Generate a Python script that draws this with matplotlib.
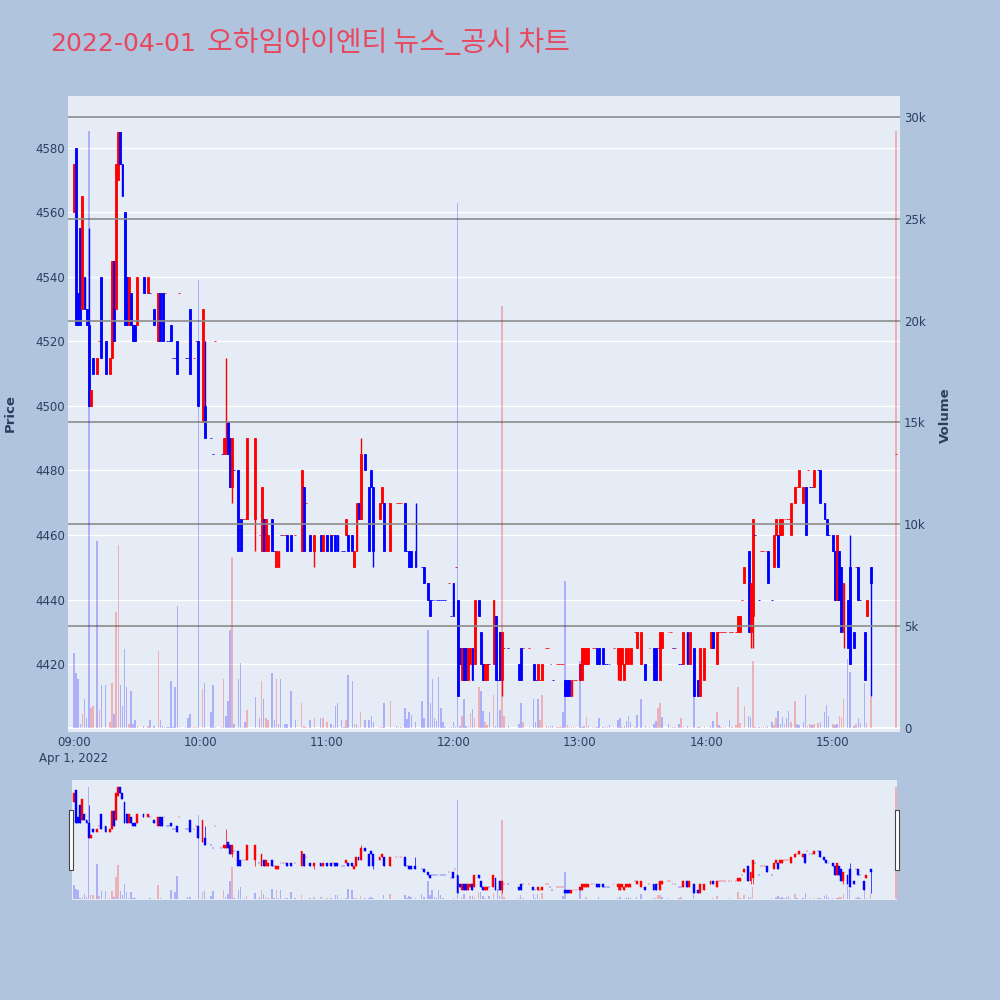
import matplotlib.pyplot as plt
from matplotlib.patches import Rectangle

# minutes after 09:00, one entry per traded minute
minutes = [0, 1, 2, 3, 4, 5, 6, 7, 8, 9,
           11, 12, 13, 15, 17, 18, 19, 20, 21, 22,
           23, 24, 25, 26, 27, 28, 29, 30, 33, 35,
           36, 38, 40, 41, 42, 43, 44, 45, 46, 47,
           48, 49, 50, 53, 54, 55, 57, 58, 59, 61,
           62, 65, 66, 67, 70, 71, 72, 73, 74, 75,
           76, 78, 79, 80, 81, 82, 86, 88, 89, 90,
           91, 92, 94, 95, 96, 97, 98, 99, 100, 101,
           103, 105, 108, 109, 110, 112, 114, 117, 118, 120,
           122, 123, 124, 125, 127, 128, 129, 130, 132, 133,
           134, 135, 136, 138, 140, 141, 142, 145, 146, 147,
           150, 153, 154, 155, 157, 158, 159, 160, 162, 165,
           166, 168, 169, 170, 171, 172, 173, 174, 175, 176,
           178, 179, 180, 181, 182, 183, 184, 185, 186, 187,
           188, 189, 190, 192, 193, 194, 195, 196, 197, 199,
           200, 201, 202, 203, 204, 206, 211, 212, 213, 216,
           218, 219, 220, 221, 222, 224, 225, 226, 227, 229,
           230, 231, 232, 233, 234, 235, 236, 237, 238, 240,
           241, 242, 243, 244, 246, 247, 248, 249, 251, 252,
           253, 254, 256, 258, 259, 260, 261, 262, 263, 264,
           266, 267, 269, 271, 273, 275, 276, 277, 278, 279,
           282, 283, 284, 285, 287, 288, 289, 291, 292, 294,
           296, 297, 299, 302, 303, 305, 306, 307, 308, 309,
           311, 312, 314, 315, 316, 317, 318, 320, 321, 322,
           323, 325, 326, 327, 328, 329, 331, 332, 333, 334,
           335, 336, 337, 338, 339, 340, 342, 343, 344, 346,
           347, 348, 349, 350, 351, 353, 354, 356, 357, 358,
           360, 361, 362, 363, 364, 365, 367, 368, 370, 371,
           372, 373, 375, 376, 378, 390]

opens = [4560, 4580, 4535, 4555, 4530, 4540, 4530, 4525, 4500, 4515,
         4510, 4520, 4540, 4520, 4510, 4515, 4545, 4530, 4570, 4585,
         4575, 4560, 4540, 4525, 4535, 4525, 4525, 4525, 4540, 4535,
         4535, 4530, 4520, 4535, 4535, 4535, 4520, 4520, 4525, 4515,
         4515, 4520, 4535, 4515, 4515, 4530, 4515, 4520, 4520, 4495,
         4500, 4490, 4485, 4520, 4485, 4485, 4485, 4495, 4490, 4475,
         4480, 4480, 4465, 4465, 4465, 4465, 4465, 4460, 4455, 4465,
         4455, 4455, 4465, 4455, 4450, 4450, 4460, 4460, 4460, 4460,
         4460, 4460, 4455, 4475, 4470, 4460, 4455, 4460, 4455, 4460,
         4460, 4460, 4460, 4460, 4455, 4455, 4460, 4460, 4460, 4450,
         4455, 4470, 4465, 4485, 4475, 4480, 4475, 4465, 4470, 4470,
         4455, 4470, 4470, 4470, 4470, 4455, 4455, 4455, 4455, 4450,
         4450, 4445, 4440, 4440, 4440, 4440, 4440, 4440, 4440, 4440,
         4445, 4435, 4445, 4450, 4440, 4425, 4415, 4425, 4425, 4415,
         4420, 4425, 4420, 4440, 4430, 4420, 4415, 4415, 4420, 4420,
         4435, 4415, 4430, 4415, 4425, 4425, 4420, 4425, 4425, 4425,
         4420, 4415, 4415, 4415, 4415, 4425, 4425, 4420, 4415, 4420,
         4420, 4420, 4420, 4415, 4415, 4415, 4410, 4415, 4415, 4415,
         4415, 4420, 4420, 4420, 4425, 4425, 4425, 4425, 4425, 4420,
         4420, 4420, 4425, 4420, 4415, 4420, 4415, 4420, 4420, 4420,
         4430, 4425, 4420, 4420, 4425, 4425, 4425, 4425, 4415, 4425,
         4430, 4430, 4425, 4425, 4420, 4420, 4420, 4430, 4420, 4425,
         4415, 4410, 4415, 4425, 4430, 4420, 4430, 4430, 4430, 4430,
         4430, 4430, 4430, 4430, 4430, 4440, 4445, 4455, 4430, 4435,
         4460, 4440, 4455, 4455, 4455, 4455, 4440, 4450, 4460, 4460,
         4460, 4460, 4465, 4465, 4465, 4460, 4470, 4475, 4475, 4470,
         4475, 4480, 4475, 4475, 4475, 4480, 4480, 4470, 4465, 4460,
         4460, 4455, 4440, 4455, 4450, 4430, 4440, 4450, 4430, 4450,
         4450, 4440, 4430, 4435, 4450, 4485]

highs = [4575, 4580, 4535, 4555, 4565, 4540, 4530, 4555, 4505, 4515,
         4515, 4520, 4540, 4520, 4515, 4545, 4545, 4575, 4585, 4585,
         4575, 4560, 4540, 4540, 4535, 4525, 4525, 4540, 4540, 4540,
         4535, 4530, 4535, 4535, 4535, 4535, 4520, 4520, 4525, 4515,
         4515, 4520, 4535, 4515, 4515, 4530, 4515, 4520, 4520, 4530,
         4520, 4490, 4485, 4520, 4485, 4490, 4515, 4495, 4490, 4490,
         4480, 4480, 4465, 4465, 4465, 4490, 4490, 4460, 4475, 4465,
         4465, 4460, 4465, 4455, 4455, 4455, 4460, 4460, 4460, 4460,
         4460, 4460, 4480, 4475, 4470, 4460, 4460, 4460, 4460, 4460,
         4460, 4460, 4460, 4460, 4455, 4455, 4465, 4460, 4460, 4455,
         4470, 4470, 4490, 4485, 4475, 4480, 4475, 4470, 4475, 4470,
         4470, 4470, 4470, 4470, 4470, 4455, 4455, 4455, 4470, 4450,
         4450, 4445, 4440, 4440, 4440, 4440, 4440, 4440, 4440, 4440,
         4445, 4435, 4445, 4450, 4440, 4425, 4425, 4425, 4425, 4425,
         4425, 4425, 4440, 4440, 4430, 4420, 4420, 4420, 4420, 4440,
         4435, 4415, 4430, 4430, 4425, 4425, 4420, 4425, 4425, 4425,
         4420, 4415, 4420, 4415, 4420, 4425, 4425, 4420, 4415, 4420,
         4420, 4420, 4420, 4415, 4415, 4415, 4415, 4415, 4415, 4420,
         4425, 4425, 4425, 4425, 4425, 4425, 4425, 4425, 4425, 4420,
         4420, 4420, 4425, 4425, 4425, 4425, 4420, 4425, 4425, 4425,
         4430, 4430, 4430, 4420, 4425, 4425, 4425, 4425, 4430, 4430,
         4430, 4430, 4425, 4425, 4420, 4420, 4430, 4430, 4430, 4425,
         4415, 4425, 4425, 4430, 4430, 4430, 4430, 4430, 4430, 4430,
         4430, 4430, 4430, 4435, 4435, 4440, 4450, 4455, 4445, 4465,
         4460, 4440, 4455, 4455, 4455, 4455, 4440, 4460, 4465, 4460,
         4465, 4465, 4465, 4465, 4465, 4470, 4475, 4475, 4480, 4475,
         4475, 4480, 4475, 4475, 4480, 4480, 4480, 4470, 4465, 4460,
         4460, 4455, 4460, 4455, 4450, 4445, 4440, 4460, 4430, 4450,
         4450, 4440, 4430, 4440, 4450, 4485]

lows = [4560, 4525, 4525, 4525, 4530, 4530, 4525, 4500, 4500, 4510,
        4510, 4520, 4515, 4510, 4510, 4515, 4520, 4530, 4570, 4575,
        4565, 4525, 4525, 4525, 4525, 4520, 4520, 4525, 4535, 4535,
        4535, 4525, 4520, 4520, 4520, 4535, 4520, 4520, 4520, 4515,
        4515, 4510, 4535, 4515, 4515, 4510, 4515, 4520, 4500, 4495,
        4490, 4490, 4485, 4520, 4485, 4485, 4485, 4485, 4475, 4470,
        4480, 4455, 4455, 4465, 4465, 4465, 4455, 4460, 4455, 4455,
        4455, 4455, 4455, 4455, 4450, 4450, 4460, 4460, 4460, 4455,
        4455, 4460, 4455, 4455, 4470, 4455, 4450, 4455, 4455, 4455,
        4455, 4460, 4455, 4455, 4455, 4455, 4460, 4455, 4455, 4450,
        4455, 4465, 4465, 4480, 4455, 4475, 4450, 4465, 4470, 4455,
        4455, 4470, 4470, 4470, 4455, 4455, 4450, 4450, 4450, 4450,
        4445, 4440, 4435, 4440, 4440, 4440, 4440, 4440, 4440, 4440,
        4445, 4435, 4435, 4450, 4410, 4420, 4415, 4415, 4415, 4415,
        4420, 4415, 4420, 4435, 4420, 4415, 4415, 4415, 4420, 4420,
        4415, 4415, 4415, 4410, 4425, 4425, 4415, 4415, 4425, 4425,
        4415, 4415, 4415, 4415, 4415, 4425, 4425, 4420, 4415, 4420,
        4420, 4420, 4420, 4410, 4410, 4410, 4410, 4415, 4415, 4415,
        4415, 4420, 4420, 4420, 4425, 4425, 4420, 4420, 4420, 4420,
        4420, 4420, 4425, 4415, 4415, 4420, 4415, 4420, 4420, 4420,
        4430, 4425, 4420, 4415, 4425, 4415, 4415, 4425, 4415, 4425,
        4430, 4430, 4425, 4425, 4420, 4420, 4420, 4420, 4420, 4410,
        4410, 4410, 4415, 4425, 4425, 4420, 4430, 4430, 4430, 4430,
        4430, 4430, 4430, 4430, 4430, 4440, 4445, 4430, 4425, 4425,
        4460, 4440, 4455, 4455, 4455, 4445, 4440, 4450, 4460, 4450,
        4460, 4460, 4465, 4465, 4465, 4460, 4470, 4475, 4475, 4470,
        4460, 4480, 4475, 4475, 4475, 4480, 4470, 4465, 4460, 4460,
        4455, 4440, 4440, 4440, 4430, 4425, 4425, 4420, 4425, 4450,
        4440, 4440, 4415, 4435, 4410, 4485]

closes = [4575, 4525, 4525, 4525, 4565, 4530, 4525, 4500, 4505, 4510,
          4515, 4520, 4515, 4510, 4515, 4545, 4520, 4575, 4585, 4575,
          4565, 4525, 4525, 4540, 4525, 4520, 4520, 4540, 4535, 4540,
          4535, 4525, 4535, 4520, 4520, 4535, 4520, 4520, 4520, 4515,
          4515, 4510, 4535, 4515, 4515, 4510, 4515, 4520, 4500, 4530,
          4490, 4490, 4485, 4520, 4485, 4490, 4490, 4485, 4475, 4490,
          4480, 4455, 4455, 4465, 4465, 4490, 4490, 4460, 4475, 4455,
          4465, 4460, 4455, 4455, 4455, 4455, 4460, 4460, 4460, 4455,
          4455, 4460, 4480, 4455, 4470, 4455, 4460, 4455, 4460, 4455,
          4455, 4460, 4455, 4455, 4455, 4455, 4465, 4455, 4455, 4455,
          4470, 4465, 4485, 4480, 4455, 4475, 4455, 4470, 4475, 4455,
          4470, 4470, 4470, 4470, 4455, 4455, 4450, 4450, 4450, 4450,
          4445, 4440, 4435, 4440, 4440, 4440, 4440, 4440, 4440, 4440,
          4445, 4435, 4435, 4450, 4410, 4420, 4425, 4415, 4415, 4425,
          4425, 4415, 4440, 4435, 4420, 4415, 4420, 4420, 4420, 4440,
          4415, 4415, 4415, 4430, 4425, 4425, 4415, 4415, 4425, 4425,
          4415, 4415, 4420, 4415, 4420, 4425, 4425, 4420, 4415, 4420,
          4420, 4420, 4420, 4410, 4410, 4410, 4415, 4415, 4415, 4420,
          4425, 4425, 4425, 4425, 4425, 4425, 4420, 4420, 4420, 4420,
          4420, 4420, 4425, 4425, 4425, 4425, 4420, 4425, 4425, 4425,
          4430, 4430, 4430, 4415, 4425, 4415, 4415, 4425, 4430, 4430,
          4430, 4430, 4425, 4425, 4420, 4420, 4430, 4420, 4430, 4410,
          4410, 4425, 4425, 4430, 4425, 4430, 4430, 4430, 4430, 4430,
          4430, 4430, 4430, 4435, 4435, 4440, 4450, 4430, 4445, 4465,
          4460, 4440, 4455, 4455, 4455, 4445, 4440, 4460, 4465, 4450,
          4465, 4465, 4465, 4465, 4465, 4470, 4475, 4475, 4480, 4475,
          4460, 4480, 4475, 4475, 4480, 4480, 4470, 4465, 4460, 4460,
          4455, 4440, 4460, 4440, 4430, 4445, 4425, 4420, 4425, 4450,
          4440, 4440, 4415, 4440, 4445, 4485]

# volume in thousands of shares
volumes = [3.7, 2.7, 2.4, 0.2, 0.7, 1.4, 0.5, 29.3, 1.0, 1.1,
           9.2, 0.9, 2.1, 2.1, 0.3, 2.2, 0.7, 5.7, 9.0, 2.1,
           1.1, 3.9, 2.0, 0.2, 1.8, 0.2, 0.4, 0.1, 0.1, 0.1,
           0.4, 0.1, 3.8, 0.4, 0.1, 0.05, 0.05, 0.05, 2.3, 0.05,
           2.0, 6.0, 0.05, 0.05, 0.5, 0.7, 0.05, 0.05, 22.0, 1.9,
           2.2, 0.8, 2.1, 0.05, 0.05, 2.4, 0.6, 1.3, 4.8, 8.4,
           0.2, 2.4, 3.2, 0.05, 0.3, 0.9, 1.5, 0.5, 2.3, 1.4,
           0.5, 0.4, 2.7, 0.4, 2.4, 0.2, 2.4, 0.05, 0.2, 0.2,
           1.8, 0.4, 1.2, 0.1, 0.05, 0.4, 0.5, 0.5, 0.5, 0.3,
           0.2, 0.1, 1.1, 1.2, 0.4, 0.05, 0.4, 2.6, 2.3, 0.2,
           0.2, 0.05, 0.8, 0.4, 0.4, 0.6, 0.3, 0.05, 0.05, 1.2,
           1.3, 0.1, 0.05, 0.05, 1.0, 0.45, 0.8, 0.65, 0.3, 1.3,
           0.5, 4.8, 1.2, 2.4, 0.5, 0.35, 2.5, 1.0, 0.3, 0.05,
           0.05, 0.05, 0.3, 0.05, 25.8, 0.1, 0.6, 1.4, 0.1, 0.05,
           0.75, 0.95, 0.5, 2.0, 1.8, 0.85, 0.3, 0.15, 0.8, 1.6,
           0.1, 2.5, 0.9, 20.7, 0.6, 0.1, 0.2, 1.2, 0.3, 0.05,
           1.4, 0.3, 1.4, 0.4, 1.6, 0.1, 0.05, 0.1, 0.1, 0.05,
           0.05, 0.05, 0.8, 7.2, 0.15, 0.05, 0.05, 0.05, 0.05, 3.3,
           0.05, 0.1, 0.55, 0.1, 0.05, 0.05, 0.05, 0.5, 0.05, 0.05,
           0.05, 0.15, 0.05, 0.4, 0.5, 0.05, 0.1, 0.35, 0.6, 0.3,
           0.05, 0.65, 1.4, 0.1, 0.05, 0.2, 0.35, 1.0, 1.2, 0.55,
           0.2, 0.05, 0.05, 0.05, 0.2, 0.5, 0.05, 0.1, 0.05, 3.3,
           0.05, 0.05, 0.05, 0.1, 0.35, 0.8, 0.15, 0.05, 0.05, 0.05,
           0.4, 0.05, 0.15, 2.0, 0.25, 0.05, 1.1, 0.6, 0.55, 3.3,
           0.05, 0.05, 0.05, 0.05, 0.05, 0.1, 0.3, 0.15, 0.5, 0.85,
           0.2, 0.55, 0.2, 0.5, 0.85, 0.3, 1.3, 0.2, 0.15, 0.3,
           1.6, 0.1, 0.2, 0.15, 0.2, 0.25, 0.3, 0.8, 1.15, 0.6,
           0.2, 0.15, 0.2, 0.6, 0.55, 1.4, 3.4, 2.75, 0.1, 0.2,
           0.5, 0.25, 2.2, 0.25, 1.5, 29.3]

# r = rising (red), b = falling (blue)
candle_side = ("rbbbrbbbrb" "rrbbrrbrrb" "bbbrbbbrbr" "bbrbbrbbbb" "bbrbbbrrbr"
               "bbbrbrrbbr" "bbbrrrrbrb" "rrbbrrbrrb" "brrbrbrbrb" "brbbbbrbbr"
               "rbrbbbbrrb" "rrrrbbbbbb" "bbbbbbbbbb" "rbbrbbrbbr" "rbrbbbrrbr"
               "bbbrrbbbrr" "bbrrrrrbbr" "rrrbbbrrrr" "rrrrrrbbbb" "bbrrrrrrrr"
               "rrrbrbbrrr" "rrbrbbrbrb" "brrrbrrrrr" "rrrrrrrbrr" "bbrrrbbrrb"
               "rrrrrrrrrr" "brbbrbbbbb" "bbrbbrbbbr" "bbbrbr")
volume_side = ("bbbbrbbbrr" "brbbrrbrrb" "bbbrbbbrbr" "bbrbbrbbbb" "bbrbbbrrbr"
               "bbbrbrbbbr" "bbbrbrbbrb" "rrbbrbbrbb" "bbrrrbrbrr" "brbbbbrbbr"
               "bbrbbbbrrb" "rbrrbbbbbb" "bbbbbbbbbb" "rbbbbbrbbr" "rbrrbbrrbr"
               "bbbrrbbbrr" "bbbrrrrbbr" "rrbbrbrrrb" "rbrbrrbbbb" "rbrbbrbbbb"
               "rbbbrbbrrb" "brbrbrrbrb" "brrbbrbrrr" "brrrrrrbbr" "bbrrrbbrrb"
               "bbrbbrrbbb" "brrbrrbbbb" "rbbrrrbbbr" "bbbrrr")

price_ticks = [4420, 4440, 4460, 4480, 4500, 4520, 4540, 4560, 4580]
volume_ticks = [0, 5, 10, 15, 20, 25, 30]
volume_labels = ['0', '5k', '10k', '15k', '20k', '25k', '30k']
time_ticks = [0, 60, 120, 180, 240, 300, 360]
time_labels = ['09:00\nApr 1, 2022', '10:00', '11:00', '12:00', '13:00', '14:00', '15:00']

RED = '#FF0000'
BLUE = '#0000FF'
TXT = '#2a3f5f'
PLOT_BG = '#E5ECF6'
TITLE_COLOR = '#E8485F'


def draw(axp, axv, wick_lw, edge_lw, body_w, vol_w):
    for m, o, h, l, c, v, cs, vs in zip(minutes, opens, highs, lows, closes,
                                        volumes, candle_side, volume_side):
        col = RED if cs == 'r' else BLUE
        axp.vlines(m, l, h, color=col, lw=wick_lw, zorder=2)
        axp.bar(m, abs(c - o), bottom=min(o, c), width=body_w, color=col,
                edgecolor=col, linewidth=edge_lw, zorder=3)
        axv.bar(m, v, width=vol_w, color=RED if vs == 'r' else BLUE,
                alpha=0.25, linewidth=0, zorder=3)


fig = plt.figure(figsize=(10, 10), dpi=100, facecolor='#B0C4DE')

ax = fig.add_axes([0.068, 0.268, 0.832, 0.636])
ax.set_facecolor(PLOT_BG)
ax2 = ax.twinx()

draw(ax, ax2, 1.0, 0.6, 0.9, 0.7)

ax.set_xlim(-2.85, 391.8)
ax.set_ylim(4399, 4596)
ax2.set_ylim(-0.2, 31.03)

ax.set_yticks(price_ticks)
ax.set_yticklabels([str(p) for p in price_ticks])
ax.grid(axis='y', color='white', lw=1.0)
ax.set_axisbelow(True)
ax.set_xticks(time_ticks)
ax.set_xticklabels(time_labels)
for lbl in ax.get_xticklabels():
    lbl.set_linespacing(1.3)
ax.tick_params(axis='x', length=0, pad=3, labelsize=8.5, labelcolor=TXT)
ax.tick_params(axis='y', length=0, pad=2, labelsize=8.5, labelcolor=TXT)

ax2.set_yticks(volume_ticks)
ax2.set_yticklabels(volume_labels)
ax2.tick_params(axis='y', length=0, pad=3, labelsize=8.5, labelcolor=TXT)
ax2.grid(axis='y', color='#8c8c8c', lw=1.2)
ax2.set_axisbelow(True)
ax2.axhline(0, color='white', lw=1.5, zorder=1)

for a in (ax, ax2):
    for s in a.spines.values():
        s.set_visible(False)

# range slider
sp = fig.add_axes([0.072, 0.100, 0.825, 0.120])
sp.set_facecolor(PLOT_BG)
sv = sp.twinx()
draw(sp, sv, 0.5, 0.3, 0.9, 0.7)
sp.set_xlim(-0.9, 390.5)
sp.set_ylim(4399, 4596)
sv.set_ylim(-0.2, 31.03)
for a in (sp, sv):
    a.set_xticks([])
    a.set_yticks([])
    for s in a.spines.values():
        s.set_visible(False)

for hx in (0.069, 0.895):
    fig.patches.append(Rectangle((hx, 0.13), 0.004, 0.06, transform=fig.transFigure,
                                 facecolor='white', edgecolor='#444444', lw=0.8))

# title: date in a Latin face, company text in the Korean face
t1 = fig.text(0.05, 0.949, '2022-04-01', color=TITLE_COLOR, fontsize=18,
              va='baseline', ha='left', family='DejaVu Sans')
renderer = fig.canvas.get_renderer()
bb = t1.get_window_extent(renderer)
fig.text(bb.x1 / 1000 + 0.011, 0.949, '오하임아이엔티 뉴스_공시 차트', color=TITLE_COLOR,
         fontsize=20.2, va='baseline', ha='left',
         family=['Noto Sans CJK KR', 'DejaVu Sans'])

fig.text(0.010, 0.587, 'Price', rotation=90, ha='center', va='center',
         fontsize=9.5, weight='bold', color=TXT)
fig.text(0.945, 0.585, 'Volume', rotation=90, ha='center', va='center',
         fontsize=9.5, weight='bold', color=TXT)

fig.savefig('out.png', dpi=100, facecolor=fig.get_facecolor())
